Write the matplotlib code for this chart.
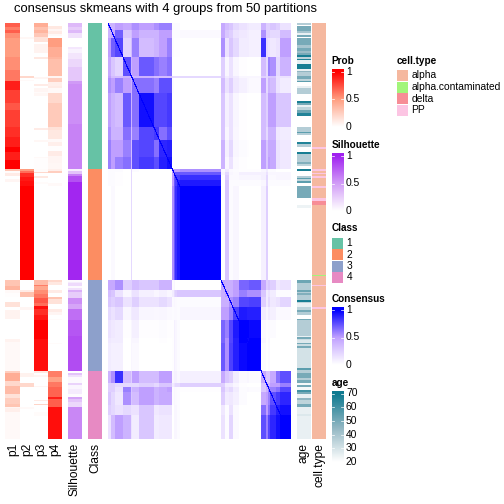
import numpy as np
import matplotlib
matplotlib.use("Agg")
import matplotlib.pyplot as plt
from matplotlib.colors import LinearSegmentedColormap, ListedColormap
from matplotlib.patches import Rectangle

plt.rcParams['font.family'] = ['Liberation Sans', 'DejaVu Sans']

TITLE = "consensus skmeans with 4 groups from 50 partitions"

# (row count, value) runs for each annotation strip, one list per class
p1_runs = [(4,.7),(3,.6),(3,.7),(5,.55),(19,.5),(13,.55),(11,.62),(9,.9),(13,.8),(7,.72),(17,.8),(10,.85),(10,.9),(5,1),(8,.9),(9,1),
           (2,.3),(2,.02),(3,.1),(3,0),(3,.05),(98,0),
           (6,.3),(4,.38),(3,.03),(4,.01),(5,0),(5,.15),(3,0),(9,.06),(20,0),(3,.06),(29,.03),
           (2,.25),(8,.42),(5,.2),(8,.35),(4,.15),(6,.25),(3,.3),(1,.05),(4,.08),(27,.03)]
p2_runs = [(14,0),(2,.04),(37,0),(2,.2),(2,0),(1,.03),(88,0),
           (2,.5),(2,.65),(4,.85),(4,.92),(5,.95),(94,1),
           (10,0),(2,.1),(5,.32),(10,0),(3,.05),(61,0),
           (2,0),(4,.07),(6,0),(4,.2),(20,0),(2,.03),(30,0)]
p3_runs = [(4,.42),(3,.32),(3,.38),(4,.28),(5,.15),(2,0),(9,.06),(4,0),(2,.12),(18,0),(2,.05),(5,0),(2,.1),(2,0),(4,.05),(1,.02),(3,.04),(32,0),(2,.1),(10,0),(2,.04),(15,0),(1,.03),(11,.01),
           (3,.02),(1,.2),(3,0),(2,.12),(4,0),(2,.02),(96,0),
           (5,.35),(1,.6),(4,.45),(4,.55),(4,.62),(5,.72),(3,.65),(3,.95),(6,.85),(5,.92),(19,1),(32,.95),
           (2,.12),(2,0),(2,.05),(9,0),(1,.05),(13,0),(1,.1),(3,0),(1,.22),(7,0),(4,.02),(23,0)]
p4_runs = [(3,0),(3,.12),(2,.05),(3,.1),(2,.03),(2,0),(9,.5),(10,.42),(2,.38),(17,.33),(2,.05),(4,.25),(4,.08),(2,.1),(5,.03),(10,.2),(24,.27),(3,.15),(9,.12),(3,.03),(4,.08),(5,.01),(5,.1),(7,.05),(6,.04),
           (2,.08),(2,.25),(10,0),(3,.03),(94,0),
           (2,.2),(3,.12),(5,0),(3,.1),(4,0),(2,.3),(5,.15),(5,0),(3,.1),(3,.05),(4,0),(1,.02),(23,0),(1,.02),(27,0),
           (6,.6),(5,.48),(5,.62),(10,.68),(2,.9),(8,.7),(32,.95)]
silhouette_runs = [(4,.35),(3,.25),(3,.35),(5,.15),(9,0),(2,.12),(4,.06),(6,.13),(8,.2),(14,.28),(3,.5),(40,.55),(45,.6),
                   (2,.08),(3,.3),(2,.6),(6,.8),(98,.97),
                   (2,.03),(1,.1),(3,.18),(2,.03),(2,.15),(2,.4),(6,.25),(6,.55),(5,.45),(11,.68),(16,.78),(35,.82),
                   (2,0),(2,.3),(2,.15),(6,.03),(2,.22),(4,.05),(5,.1),(3,.02),(2,.45),(3,.3),(5,.2),(32,.58)]
class_runs = [(146,1),(111,2),(91,3),(68,4)]
age_runs = [(2,37),(1,20),(5,50),(2,40),(2,25),(2,50),(1,20),(7,50),(3,40),(3,50),(2,43),(2,50),(2,68),(2,35),(1,66),(4,25),(5,68),(2,25),(1,45),(4,37),(3,50),(2,35),(1,55),(4,20),(2,25),(6,37),(7,20),(2,68),(2,50),(2,25),(3,35),(3,52),(3,66),(11,20),(5,37),(1,55),(2,37),(7,20),(2,66),(3,37),(5,20),(2,68),(8,37),(2,48),(2,35),(3,20),
            (2,68),(5,20),(2,37),(1,55),(2,35),(2,55),(3,20),(12,50),(7,20),(3,24),(72,20),
            (3,52),(7,37),(2,52),(1,37),(2,48),(5,37),(2,68),(1,35),(4,25),(3,35),(2,50),(3,37),(4,20),(1,50),(16,37),(1,25),(2,50),(1,32),(3,28),(1,50),(2,32),(2,50),(20,30),(2,55),(1,37),
            (2,37),(5,50),(2,37),(3,50),(2,22),(2,50),(3,22),(2,60),(2,50),(4,25),(2,45),(4,35),(3,50),(7,25),(2,28),(23,25)]
# 0 alpha, 1 alpha.contaminated, 2 delta, 3 PP
celltype_runs = [(124,0),(2,3),(20,0),(2,3),(2,0),(1,3),(2,0),(2,3),(8,0),(2,3),(10,0),(3,3),(4,2),(70,0),(1,1),(9,0),(1,3),(21,0),(2,3),(130,0)]

celltype_names = ["alpha", "alpha.contaminated", "delta", "PP"]
celltype_colors = ["#F5B89F", "#A2F57A", "#F78D96", "#FCC5E3"]
class_names = ["1", "2", "3", "4"]
class_colors = ["#66C2A5", "#FC8D62", "#8DA0CB", "#E78AC3"]

# consensus matrix: sizes of the sample blocks and the upper triangle of block values
consensus_blocks = [7,8,19,19,2,15,34,13,17,12, 3,3,5,6,94, 10,7,10,13,18,5,28, 12,4,5,13,10,24]
consensus_upper = [
 [.4,.4,.5,.45,.5,.55,.5,.55,.6,.6, .02,.02,.02,.02,0, .45,.35,.3,.2,.15,.12,.1, .4,.25,.25,.3,.25,.15],
 [.45,.7,.3,.35,.5,.4,.4,.5,.5, .02,.02,.02,.02,.03, .45,.3,.25,.15,.12,.1,.08, .55,.25,.25,.2,.2,.35],
 [.78,.22,.35,.6,.35,.4,.5,.6, .02,.01,.01,.01,0, .55,.15,.3,.2,.1,.1,.08, .85,.2,.15,.12,.15,.5],
 [.75,.4,.5,.72,.65,.6,.65, 0,0,0,0,0, .25,.05,.15,.05,.01,0,0, .35,.2,.6,.55,.2,.4],
 [.5,.4,.4,.35,.35,.35, .2,.2,.2,.2,.2, .25,.1,.15,.1,.05,.05,.05, .25,.2,.3,.3,.15,.15],
 [.65,.65,.6,.75,.75, .02,0,0,0,0, .35,.15,.25,.12,.08,.05,.03, .5,.2,.4,.35,.15,.1],
 [.95,.78,.78,.82, 0,0,0,0,0, .3,.08,.15,.05,.01,0,0, .35,.25,.5,.5,.3,.3],
 [.82,.65,.75, 0,0,0,0,0, .3,.05,.15,.04,.01,0,0, .35,.2,.4,.4,.12,.1],
 [.88,.9, 0,0,0,0,0, .4,.08,.2,.05,.02,.01,0, .5,.3,.45,.45,.15,.12],
 [.95, 0,0,0,0,0, .4,.05,.15,.03,.01,0,0, .5,.3,.5,.45,.15,.12],
 [.5,.5,.5,.5,.55, .02,.1,.03,.02,.01,.01,.01, .05,.1,.02,.02,0,0],
 [.72,.72,.72,.72, .05,.2,.05,.03,.08,.08,.08, .08,.15,.05,.05,.05,.05],
 [.8,.8,.85, 0,.25,.03,.03,.05,.05,.05, .08,.2,.03,.03,.05,.05],
 [.9,.92, 0,.3,.02,.02,.02,.02,.02, .05,.2,.02,.02,.02,.02],
 [1, 0,.3,.02,.05,0,0,0, .08,.25,.01,0,0,0],
 [.45,.42,.42,.5,.68,.68,.72, .45,.25,.3,.25,.12,.15],
 [.5,.42,.5,.6,.55,.55, .3,.1,.15,.1,.02,.02],
 [.55,.6,.78,.78,.8, .25,.1,.2,.12,.15,.22],
 [.8,.92,.9,.9, .1,.05,.1,.08,.03,.03],
 [1,1,.97, .03,.01,.02,.02,0,0],
 [.97,1, .05,0,.03,0,0,0],
 [1, .02,0,.02,0,0,0],
 [.45,.3,.3,.45,.65,.75],
 [.5,.4,.5,.5,.6],
 [.6,.6,.65,.78],
 [.75,.82,.88],
 [.9,.95],
 [1],
]

prob_ticks = [1, 0.5, 0]
sil_ticks = [1, 0.5, 0]
cons_ticks = [1, 0.5, 0]
age_ticks = [70, 60, 50, 40, 30, 20]


def expand(runs):
    counts, values = zip(*runs)
    return np.repeat(np.array(values, dtype=float), counts)


def ramp(mid, end):
    return LinearSegmentedColormap.from_list("r", [(0, "#FFFFFF"), (.5, mid), (1, end)])


prob_cmap = ramp("#FF9E81", "#FF0000")
sil_cmap = ramp("#D19BF7", "#A020F0")
cons_cmap = ramp("#C0A0FF", "#0000FF")
age_cmap = ramp("#92B7C3", "#0E7A90")

fig = plt.figure(figsize=(7, 7), dpi=72)
W = 504.0


def axpx(x0, y0, x1, y1):
    a = fig.add_axes([x0 / W, 1 - y1 / W, (x1 - x0) / W, (y1 - y0) / W])
    a.set_axis_off()
    return a


Y0, Y1 = 23, 439
strips = [
    (5, 20, expand(p1_runs), prob_cmap, 0, 1),
    (20, 34, expand(p2_runs), prob_cmap, 0, 1),
    (34, 48, expand(p3_runs), prob_cmap, 0, 1),
    (48, 62, expand(p4_runs), prob_cmap, 0, 1),
    (68, 82, expand(silhouette_runs), sil_cmap, 0, 1),
    (88, 102, expand(class_runs), ListedColormap(class_colors), 1, 4),
    (297, 311, expand(age_runs), age_cmap, 20, 70),
    (312, 326, expand(celltype_runs), ListedColormap(celltype_colors), 0, 3),
]
for x0, x1, vals, cm, lo, hi in strips:
    a = axpx(x0, Y0, x1, Y1)
    a.imshow(vals[:, None], aspect="auto", cmap=cm, vmin=lo, vmax=hi, interpolation="nearest")

# consensus heatmap
n = len(consensus_blocks)
B = np.zeros((n, n))
for i, row in enumerate(consensus_upper):
    for k, v in enumerate(row):
        B[i, i + k] = v
        B[i + k, i] = v
idx = np.repeat(np.arange(n), consensus_blocks)
M = B[np.ix_(idx, idx)]
for off in (-1, 0, 1):
    r = np.arange(max(0, -off), len(idx) - max(0, off))
    M[r, r + off] = 1
a = axpx(108, Y0, 291, Y1)
a.imshow(M, aspect="auto", cmap=cons_cmap, vmin=0, vmax=1, interpolation="nearest")

# labels beneath
for xc, s in [(13, "p1"), (27, "p2"), (41, "p3"), (55, "p4"), (75, "Silhouette"),
              (95, "Class"), (304, "age"), (319, "cell.type")]:
    fig.text(xc / W, 1 - 443 / W, s, rotation=90, ha="center", va="top", fontsize=12)

fig.text(165.5 / W, 1 - 9 / W, TITLE, ha="center", va="center", fontsize=13)


def title(x, y, s):
    fig.text(x / W, 1 - y / W, s, ha="left", va="center", fontsize=10, fontweight="bold")


def colorbar(ttl, ty, top, ytop, ybot, ticks, cm):
    title(331.5, ty, ttl)
    hi, lo = max(ticks), min(ticks)
    pxper = (ybot - ytop) / (hi - lo)
    a = axpx(331.5, top, 343.5, ybot)
    a.set_xlim(0, 1)
    a.set_ylim(lo, hi + (ytop - top) / pxper)
    grid = np.clip(np.linspace(a.get_ylim()[1], lo, 120), lo, hi)[:, None]
    a.imshow(grid, aspect="auto", cmap=cm, vmin=lo, vmax=hi, extent=(0, 1, lo, a.get_ylim()[1]),
             interpolation="bilinear")
    for t in ticks:
        if t != lo:
            a.plot([0, .2], [t, t], color="white", lw=.7)
            a.plot([.8, 1], [t, t], color="white", lw=.7)
        fig.text(346 / W, 1 - (ytop + (hi - t) * pxper) / W, f"{t:g}", ha="left", va="center", fontsize=10.3)


colorbar("Prob", 61, 69, 71.7, 127, prob_ticks, prob_cmap)
colorbar("Silhouette", 145, 153, 156, 211, sil_ticks, sil_cmap)
colorbar("Consensus", 299, 307, 310, 365, cons_ticks, cons_cmap)
colorbar("age", 383, 391, 393.5, 462, age_ticks, age_cmap)

bg = axpx(0, 0, 504, 504)
bg.set_xlim(0, 504)
bg.set_ylim(504, 0)
bg.patch.set_alpha(0)


def swatches(x, yc, names, colors):
    for i, (nm, c) in enumerate(zip(names, colors)):
        y = yc + i * 11.5
        bg.add_patch(Rectangle((x, y - 5.5), 11, 11, facecolor=c, edgecolor="none"))
        fig.text((x + 14.5) / W, 1 - y / W, nm, ha="left", va="center", fontsize=10.3)


title(331.5, 228, "Class")
swatches(332, 243, class_names, class_colors)
title(397, 61, "cell.type")
swatches(397, 75.5, celltype_names, celltype_colors)

fig.savefig("out.png", dpi=72)
